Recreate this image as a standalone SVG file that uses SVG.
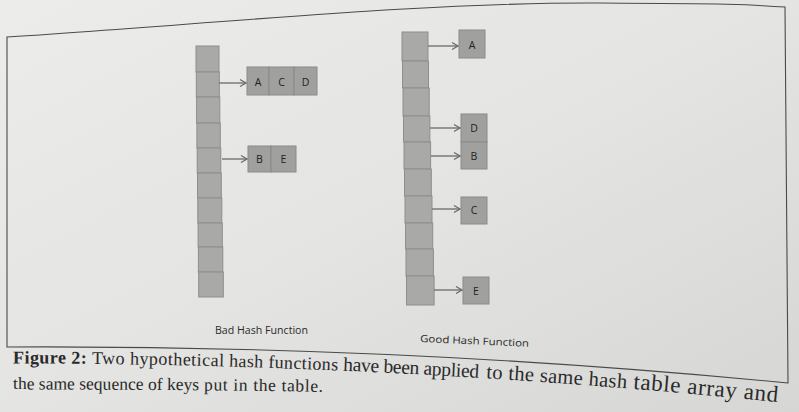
<svg xmlns="http://www.w3.org/2000/svg" width="799" height="412" viewBox="0 0 799 412">
<defs>
<linearGradient id="paper" x1="0" y1="0" x2="1" y2="1">
<stop offset="0" stop-color="#ececea"/>
<stop offset="0.5" stop-color="#e4e4e2"/>
<stop offset="1" stop-color="#d6d6d4"/>
</linearGradient>
<marker id="arr" markerWidth="10" markerHeight="10" refX="8" refY="5" orient="auto" markerUnits="userSpaceOnUse">
<path d="M2,1.5 L8,5 L2,8.5" fill="none" stroke="#6a6a6a" stroke-width="1.3"/>
</marker>
<path id="cap1a" d="M13,363.5 Q118.5,363.5 224,366.4"/>
<path id="cap1b" d="M229,366.6 Q283.5,368.2 338,370.5"/>
<path id="cap1c" d="M343,370.7 Q412,373.7 481,378"/>
<path id="cap1d" d="M486,378.3 Q557,382.7 628,388.5"/>
<path id="cap1e" d="M633,388.9 Q705.5,394.8 778,402.1"/>
<path id="cap2a" d="M13,389.5 Q106,389.5 199,390.3"/>
<path id="cap2b" d="M204,390.4 Q263.5,390.8 323,391.9"/>
</defs>
<style>
.cell{fill:#a9a9a8;stroke:#8e8e8e;stroke-width:1}
.box{fill:#a0a09f;stroke:#8a8a8a;stroke-width:1}
.conn{stroke:#6a6a6a;stroke-width:1.3;fill:none;marker-end:url(#arr)}
.key{font-family:"Open Sans","Liberation Sans",sans-serif;font-size:10.5px;fill:#222;text-anchor:middle}
.lbl{font-family:"Open Sans","Liberation Sans",sans-serif;font-size:10px;fill:#2a2a2a}
.cap{font-family:"Liberation Serif","DejaVu Serif",serif;fill:#2a2a2a}
.frame{fill:none;stroke:#4a4a4a;stroke-width:1.1}
</style>
<rect x="0" y="0" width="799" height="412" fill="url(#paper)"/>
<path class="frame" d="M7,347 L7,37 C200,25 420,2 600,3 S740,5 785,7 L788,383 Q400,345 7,347 Z"/>

<g id="bad-table">
<rect class="cell" x="196" y="46" width="23" height="26"/>
<rect class="cell" x="196.3" y="72" width="23" height="25"/>
<rect class="cell" x="196.6" y="97" width="23.2" height="26"/>
<rect class="cell" x="196.9" y="123" width="23.4" height="25"/>
<rect class="cell" x="197.2" y="148" width="23.6" height="25"/>
<rect class="cell" x="197.5" y="173" width="23.8" height="25"/>
<rect class="cell" x="197.8" y="198" width="24" height="25"/>
<rect class="cell" x="198.1" y="223" width="24.2" height="24"/>
<rect class="cell" x="198.4" y="247" width="24.4" height="25"/>
<rect class="cell" x="198.7" y="272" width="24.6" height="25"/>
</g>
<g id="bad-acd">
<rect class="box" x="247" y="67" width="22" height="28"/>
<rect class="box" x="269" y="67" width="25" height="28"/>
<rect class="box" x="294" y="67" width="23" height="28"/>
<text class="key" x="258" y="86">A</text>
<text class="key" x="281.5" y="86">C</text>
<text class="key" x="305.5" y="86">D</text>
</g>
<g id="bad-be">
<rect class="box" x="248" y="146" width="23" height="26"/>
<rect class="box" x="271" y="146" width="25" height="26"/>
<text class="key" x="259.5" y="163">B</text>
<text class="key" x="283.5" y="163">E</text>
</g>
<text id="bad-label" class="lbl" x="215" y="334" textLength="93" lengthAdjust="spacingAndGlyphs">Bad Hash Function</text>

<g id="good-table">
<rect class="cell" x="402" y="32" width="26" height="29"/>
<rect class="cell" x="402.5" y="61" width="26" height="27"/>
<rect class="cell" x="403" y="88" width="26.2" height="28"/>
<rect class="cell" x="403.5" y="116" width="26.4" height="26"/>
<rect class="cell" x="404" y="142" width="26.6" height="27"/>
<rect class="cell" x="404.5" y="169" width="26.8" height="27"/>
<rect class="cell" x="405" y="196" width="27" height="27"/>
<rect class="cell" x="405.5" y="223" width="27.2" height="26"/>
<rect class="cell" x="406" y="249" width="27.4" height="27"/>
<rect class="cell" x="406.5" y="276" width="27.6" height="29"/>
</g>
<g id="good-a"><rect class="box" x="459" y="30" width="26" height="28"/><text class="key" x="472" y="49">A</text></g>
<g id="good-d"><rect class="box" x="461" y="114" width="26" height="28"/><text class="key" x="474" y="132">D</text></g>
<g id="good-b"><rect class="box" x="461" y="142" width="26" height="27"/><text class="key" x="474" y="160">B</text></g>
<g id="good-c"><rect class="box" x="461" y="197" width="26" height="27"/><text class="key" x="474" y="214">C</text></g>
<g id="good-e"><rect class="box" x="463" y="277" width="26" height="27"/><text class="key" x="476" y="295">E</text></g>
<text id="good-label" class="lbl" x="420" y="342" font-size="10.5" transform="rotate(2.5 420 342)" textLength="109" lengthAdjust="spacingAndGlyphs">Good Hash Function</text>

<g id="connectors">
<line class="conn" x1="219" y1="83" x2="246" y2="83"/>
<line class="conn" x1="222" y1="159" x2="247" y2="159"/>
<line class="conn" x1="428" y1="46" x2="458" y2="46"/>
<line class="conn" x1="430" y1="128" x2="460" y2="128"/>
<line class="conn" x1="431" y1="156" x2="460" y2="156"/>
<line class="conn" x1="432" y1="209" x2="460" y2="209"/>
<line class="conn" x1="434" y1="290" x2="462" y2="290"/>
</g>

<g id="caption">
<text class="cap" font-size="18"><textPath href="#cap1a" textLength="211" lengthAdjust="spacing"><tspan font-weight="bold">Figure 2:</tspan> Two hypothetical</textPath></text>
<text class="cap" font-size="18"><textPath href="#cap1b" textLength="109" lengthAdjust="spacing">hash functions</textPath></text>
<text class="cap" font-size="19.5"><textPath href="#cap1c" textLength="136" lengthAdjust="spacing">have been applied</textPath></text>
<text class="cap" font-size="20.5"><textPath href="#cap1d" textLength="141" lengthAdjust="spacing">to the same hash</textPath></text>
<text class="cap" font-size="23"><textPath href="#cap1e" textLength="145" lengthAdjust="spacing">table array and</textPath></text>
<text class="cap" font-size="17.5"><textPath href="#cap2a" textLength="186" lengthAdjust="spacing">the same sequence of keys</textPath></text>
<text class="cap" font-size="17.5"><textPath href="#cap2b" textLength="119" lengthAdjust="spacing">put in the table.</textPath></text>
</g>
</svg>
